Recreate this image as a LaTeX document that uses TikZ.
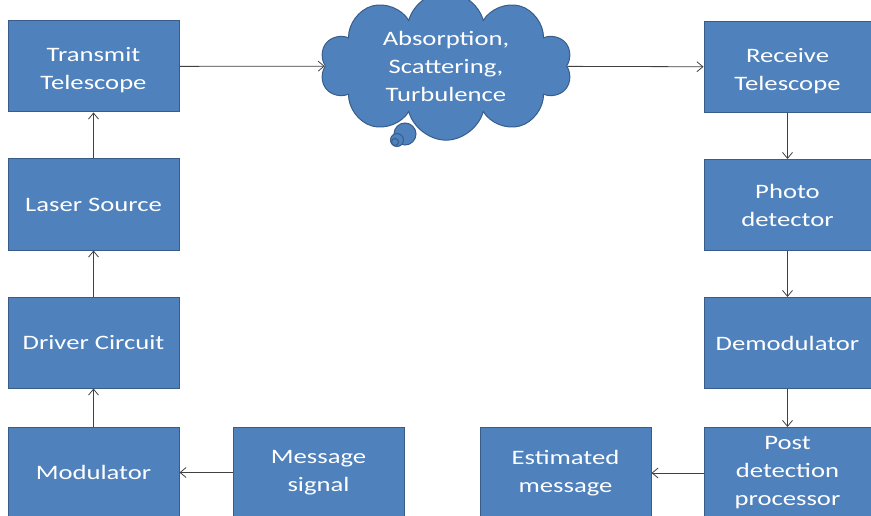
\documentclass[tikz,border=0pt]{standalone}
\usepackage{fontspec}
\setmainfont{Carlito}[FakeStretch=1.3]
\usetikzlibrary{positioning,shapes.symbols,arrows.meta}

\definecolor{boxblue}{HTML}{4F81BD}
\definecolor{boxedge}{HTML}{385D8A}
\definecolor{linkgray}{HTML}{404040}

\tikzset{
    blockbox/.style={draw=boxedge, line width=1pt, fill=boxblue, text=white,
        minimum width=171pt, minimum height=91pt, align=center,
        font=\fontsize{20.5}{28}\selectfont},
    rightbox/.style={blockbox, minimum width=167pt},
    bubble/.style={circle, draw=boxedge, line width=1pt, fill=boxblue, inner sep=0pt},
    link/.style={draw=linkgray, line width=0.8pt, -{Straight Barb[length=6pt,width=10pt]}}
}

\begin{document}
\begin{tikzpicture}[x=1pt, y=-1pt, node distance=46pt]
    \useasboundingbox (0,0) rectangle (871,516);

    % transmitter side
    \node[blockbox] (tx) at (93.5,66.5) {\rule{0pt}{22pt}Transmit\\Telescope};
    \node[blockbox, below=of tx] (laser) {Laser Source};
    \node[blockbox, below=of laser] (driver) {Driver Circuit};
    \node[blockbox, below=38pt of driver] (mod) {Modulator};
    \node[blockbox, right=53pt of mod] (msg) {Message\\signal};

    % channel
    \node[cloud, cloud puffs=10, cloud ignores aspect, draw=boxedge, line width=1pt,
        fill=boxblue, text=white, minimum width=252pt, minimum height=124pt,
        align=center, font=\fontsize{20.5}{28}\selectfont] (chan) at (446,66)
        {Absorption,\\Scattering,\\Turbulence};
    \node[bubble, minimum size=22pt] (bub1) at (405,134) {};
    \node[bubble, minimum size=13pt] (bub2) at (397,140) {};
    \node[bubble, minimum size=7pt] (bub3) at (395,142) {};

    % receiver side
    \node[rightbox] (rx) at (787.5,67) {\rule{0pt}{22pt}Receive\\Telescope};
    \node[rightbox, below=of rx] (photo) {Photo\\detector};
    \node[rightbox, below=of photo] (demod) {Demodulator};
    \node[rightbox, below=38pt of demod] (post) {Post\\detection\\processor};
    \node[blockbox, left=52pt of post] (est) {Estimated\\message};

    \draw[link] (msg) -- (mod);
    \draw[link] (mod) -- (driver);
    \draw[link] (driver) -- (laser);
    \draw[link] (laser) -- (tx);
    \draw[link] (tx) -- (chan);
    \draw[link] (chan) -- (rx);
    \draw[link] (rx) -- (photo);
    \draw[link] (photo) -- (demod);
    \draw[link] (demod) -- (post);
    \draw[link] (post) -- (est);
\end{tikzpicture}
\end{document}
